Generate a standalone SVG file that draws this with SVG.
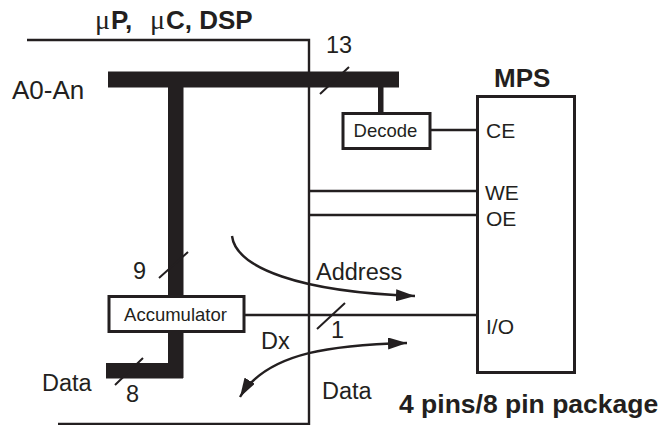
<svg xmlns="http://www.w3.org/2000/svg" width="659" height="425" viewBox="0 0 659 425">
<style>
text{font-family:"Liberation Sans",Arial,sans-serif;fill:#231f20}
.b{font-weight:bold}
.l{fill:none;stroke:#231f20;stroke-width:2.4}
.t{fill:none;stroke:#231f20;stroke-width:2}
.box{fill:#fff;stroke:#231f20;stroke-width:3}
.bus{fill:#231f20}
</style>
<defs>
<marker id="a" markerUnits="userSpaceOnUse" markerWidth="20" markerHeight="12" refX="19" refY="6" orient="auto-start-reverse"><path d="M0,0L19,6L0,12L0,0Z" fill="#231f20"/></marker>
</defs>
<g id="connectors">
<path class="l" d="M27,40H309V424H58"/>
<rect class="bus" x="108" y="71.500" width="291" height="16"/>
<rect class="bus" x="168" y="87" width="15.500" height="291"/>
<rect class="bus" x="106" y="363" width="77" height="15.500"/>
<rect class="bus" x="378" y="87" width="5.500" height="27"/>
<path class="l" d="M430,130H477M309,191H477M309,215H477M245,315H477"/>
<path class="t" d="M320,94L349,67M159,278L188,252M115,385L143,358M317,329L345,303"/>
<path class="l" marker-end="url(#a)" d="M232,236C236,268 300,292 415,296"/>
<path class="l" marker-start="url(#a)" marker-end="url(#a)" d="M407,343C340,345 268,350 240,397"/>
</g>
<g id="accumulator"><rect class="box" x="109" y="296.500" width="135" height="35"/><text x="175.500" y="321" font-size="18.500" text-anchor="middle">Accumulator</text></g>
<g id="decode"><rect class="box" x="343" y="113.500" width="87" height="35"/><text x="385.500" y="137" font-size="18.500" text-anchor="middle">Decode</text></g>
<g id="mps"><rect x="477.500" y="96.500" width="97" height="276" fill="none" stroke="#231f20" stroke-width="3"/>
<text x="494" y="87" font-size="26" class="b">MPS</text>
<text x="486" y="138" font-size="21">CE</text>
<text x="485" y="200" font-size="21">WE</text>
<text x="486" y="226" font-size="21">OE</text>
<text x="486" y="334" font-size="21">I/O</text></g>
<g id="labels">
<text y="29" font-size="26"><tspan x="95" font-family="Liberation Serif" font-size="28">μ</tspan><tspan x="111" class="b">P,</tspan><tspan x="150" font-family="Liberation Serif" font-size="28">μ</tspan><tspan x="166" class="b">C, DSP</tspan></text>
<text x="12" y="99" font-size="26">A0-An</text>
<text x="326" y="53" font-size="23.500">13</text>
<text x="133" y="279" font-size="23.500">9</text>
<text x="42" y="391" font-size="23.500">Data</text>
<text x="126" y="402" font-size="23.500">8</text>
<text x="316" y="280" font-size="23.500">Address</text>
<text x="261" y="349" font-size="23.500">Dx</text>
<text x="331" y="338" font-size="23.500">1</text>
<text x="322" y="399" font-size="23.500">Data</text>
<text x="399" y="413" font-size="26.500" class="b">4 pins/8 pin package</text>
</g>
</svg>
